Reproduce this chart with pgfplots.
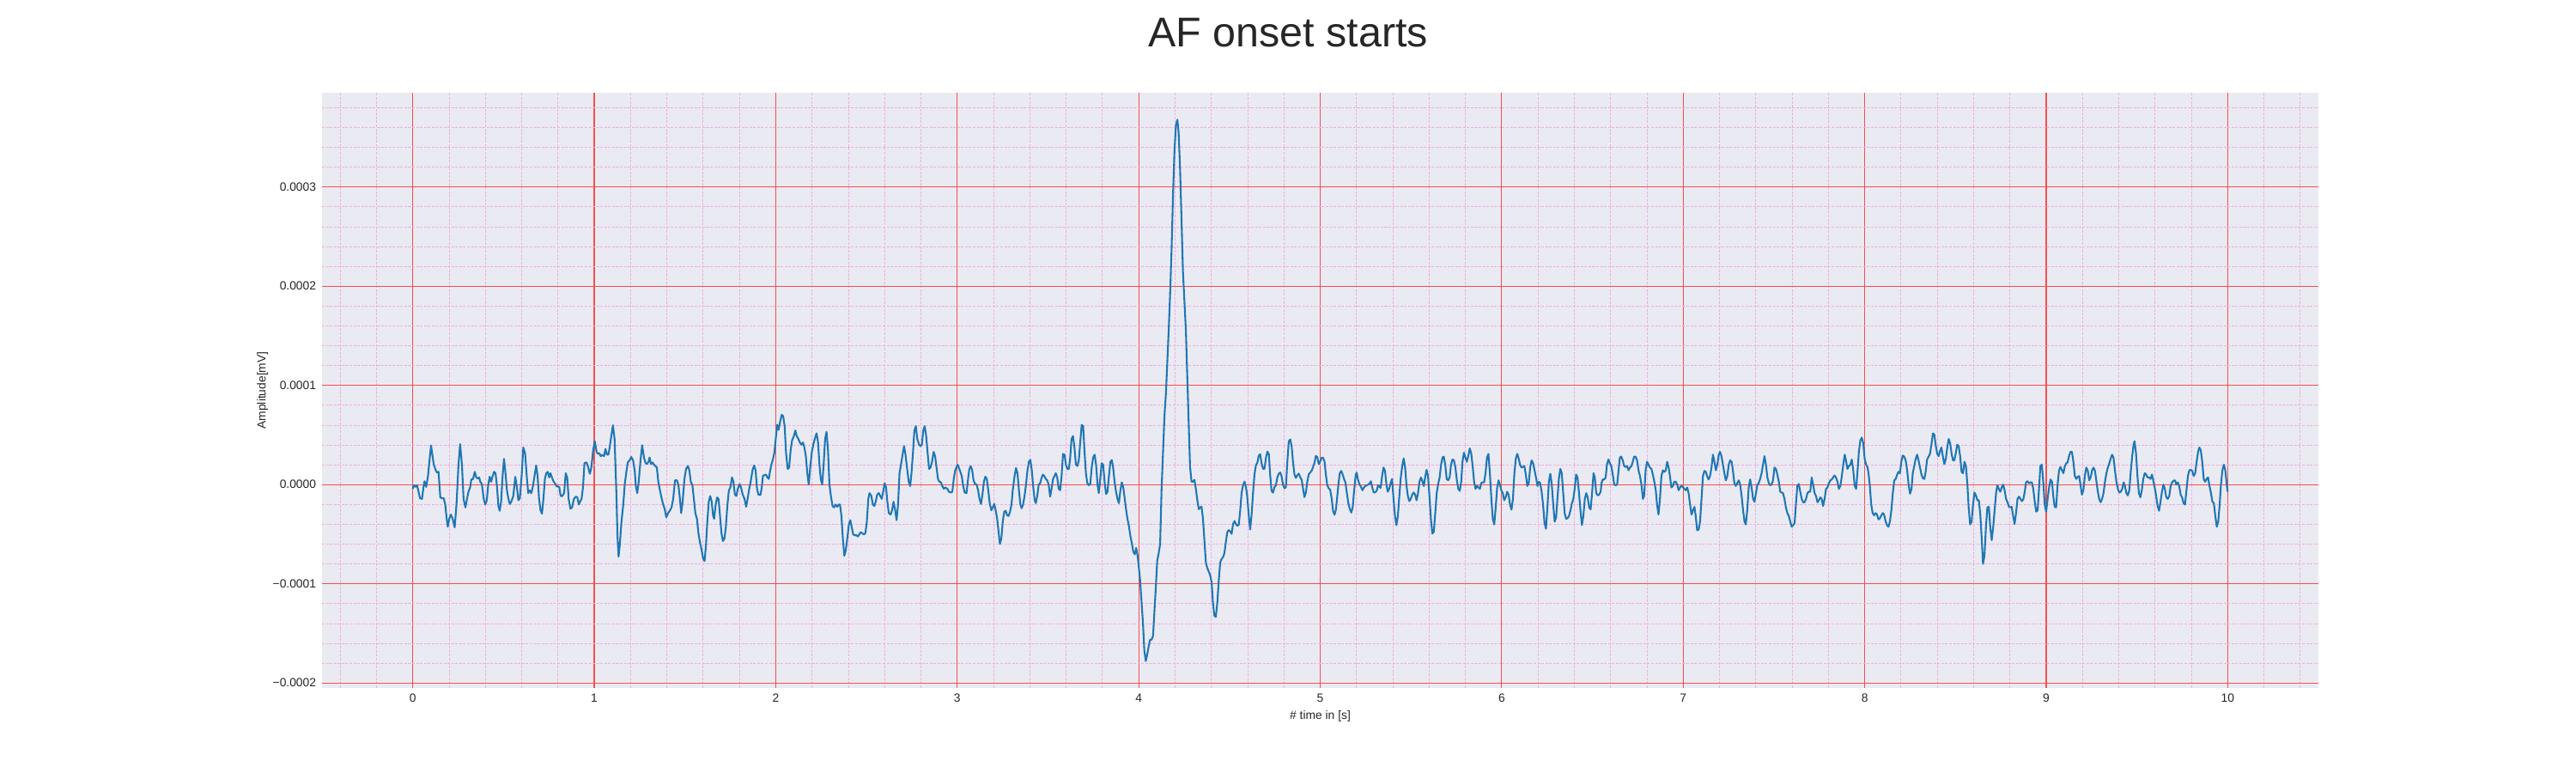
\documentclass[border=0pt]{standalone}
\usepackage{fontspec}
\setmainfont{Liberation Sans}
\usepackage{pgfplots}
\pgfplotsset{compat=1.18}
\definecolor{bgc}{HTML}{EAEAF2}
\definecolor{gridred}{RGB}{245,80,80}
\definecolor{gridpink}{RGB}{240,175,225}
\definecolor{txt}{HTML}{262626}
\definecolor{tabblue}{HTML}{1F77B4}
\begin{document}
\begin{tikzpicture}
\useasboundingbox (0,0) rectangle (30in,9in);
\node[anchor=base, font=\fontsize{35}{42}\selectfont, text=txt] at (15in,9in-39.6pt) {AF onset starts};
\begin{axis}[
  at={(3.75in,0.99in)}, anchor=south west,
  scale only axis, width=23.25in, height=6.93in,
  xmin=-0.5, xmax=10.5, ymin=-2.05e-4, ymax=3.95e-4,
  scaled y ticks=false, scaled x ticks=false,
  axis background/.style={fill=bgc},
  axis line style={draw=none},
  major tick length=0pt, minor tick length=0pt,
  xtick={0,1,2,3,4,5,6,7,8,9,10},
  xticklabels={0,1,2,3,4,5,6,7,8,9,10},
  minor xtick={-0.4,-0.2,0.2,0.4,0.6,0.8,1.2,1.4,1.6,1.8,2.2,2.4,2.6,2.8,3.2,3.4,3.6,3.8,4.2,4.4,4.6,4.8,5.2,5.4,5.6,5.8,6.2,6.4,6.6,6.8,7.2,7.4,7.6,7.8,8.2,8.4,8.6,8.8,9.2,9.4,9.6,9.8,10.2,10.4},
  ytick={-0.0002,-0.0001,0,0.0001,0.0002,0.0003},
  yticklabels={−0.0002,−0.0001,0.0000,0.0001,0.0002,0.0003},
  minor ytick={-0.00018,-0.00016,-0.00014,-0.00012,-0.00008,-0.00006,-0.00004,-0.00002,0.00002,0.00004,0.00006,0.00008,0.00012,0.00014,0.00016,0.00018,0.00022,0.00024,0.00026,0.00028,0.00032,0.00034,0.00036,0.00038},
  grid=both,
  major grid style={line width=0.8pt, color=gridred},
  minor grid style={line width=0.6pt, color=gridpink, dash pattern=on 2.2pt off 1.1pt},
  tick label style={font=\fontsize{10}{12}\selectfont, text=txt},
  xticklabel style={anchor=base, yshift=-11.95pt},
  yticklabel style={anchor=east, inner sep=0pt, xshift=-4.8pt},
  xlabel={\# time in [s]},
  ylabel={Amplitude[mV]},
  every axis x label/.style={at={([yshift=-26.35pt]axis description cs:0.5,0)}, anchor=base, font=\fontsize{10}{12}\selectfont, text=txt},
  every axis y label/.style={at={([xshift=-47.4pt]axis description cs:0,0.5)}, rotate=90, anchor=base, font=\fontsize{10}{12}\selectfont, text=txt},
]
\addplot[tabblue, line width=1.5pt, line join=round, mark=none] table {
x y
0.000 -0.43e-5
0.005 -0.06e-5
0.014 -0.23e-5
0.024 -0.09e-5
0.032 -0.72e-5
0.040 -1.38e-5
0.051 -1.44e-5
0.059 -0.29e-5
0.065 0.34e-5
0.074 -0.23e-5
0.084 0.86e-5
0.093 2.59e-5
0.101 3.94e-5
0.109 2.87e-5
0.116 2.01e-5
0.127 1.44e-5
0.134 1.21e-5
0.142 1.29e-5
0.152 -1.29e-5
0.161 -1.38e-5
0.171 -1.38e-5
0.179 -2.01e-5
0.187 -3.45e-5
0.193 -4.25e-5
0.201 -3.45e-5
0.210 -3.02e-5
0.220 -3.45e-5
0.231 -4.31e-5
0.241 -2.01e-5
0.252 2.01e-5
0.261 4.08e-5
0.271 2.01e-5
0.280 -1.44e-5
0.290 -2.30e-5
0.299 -1.44e-5
0.307 -0.72e-5
0.316 -0.29e-5
0.323 0.52e-5
0.332 0.57e-5
0.342 1.29e-5
0.350 0.72e-5
0.358 0.63e-5
0.366 0.72e-5
0.372 0.29e-5
0.381 0.06e-5
0.391 -1.44e-5
0.400 -2.01e-5
0.408 -1.58e-5
0.416 0
0.424 0.80e-5
0.432 0.29e-5
0.438 0.72e-5
0.448 1.29e-5
0.456 1.15e-5
0.464 -0.14e-5
0.472 -2.16e-5
0.479 -2.64e-5
0.487 -1.72e-5
0.495 0.86e-5
0.503 2.59e-5
0.511 1.15e-5
0.519 -0.57e-5
0.527 -1.44e-5
0.535 -1.95e-5
0.543 -1.72e-5
0.554 -1.15e-5
0.565 0.78e-5
0.574 -0.29e-5
0.582 -1.58e-5
0.590 -1.38e-5
0.600 0.86e-5
0.609 3.74e-5
0.619 3.16e-5
0.628 0.86e-5
0.636 -0.86e-5
0.644 -0.57e-5
0.653 -0.86e-5
0.661 -0.29e-5
0.671 0.86e-5
0.680 1.93e-5
0.688 0.86e-5
0.696 -1.44e-5
0.704 -2.59e-5
0.712 -2.93e-5
0.720 -1.44e-5
0.728 0.57e-5
0.736 1.15e-5
0.744 1.29e-5
0.752 0.72e-5
0.759 1.15e-5
0.767 0.72e-5
0.775 0.34e-5
0.783 0.14e-5
0.791 -0.14e-5
0.799 -0.20e-5
0.807 -0.23e-5
0.815 -1.15e-5
0.824 -1.15e-5
0.834 -0.86e-5
0.843 1.15e-5
0.851 0.72e-5
0.859 -1.44e-5
0.869 -2.44e-5
0.878 -2.30e-5
0.888 -1.44e-5
0.899 -1.21e-5
0.907 -1.29e-5
0.915 -2.01e-5
0.922 -1.72e-5
0.930 -1.44e-5
0.938 -0.29e-5
0.946 2.16e-5
0.957 2.24e-5
0.965 1.87e-5
0.976 1.09e-5
0.984 1.72e-5
0.994 3.45e-5
1.003 4.37e-5
1.013 3.30e-5
1.021 3.10e-5
1.028 3.16e-5
1.036 2.87e-5
1.046 2.99e-5
1.054 2.87e-5
1.062 3.59e-5
1.070 3.02e-5
1.078 3.02e-5
1.085 3.74e-5
1.095 5.03e-5
1.103 5.98e-5
1.112 4.60e-5
1.122 -0.86e-5
1.128 -5.17e-5
1.134 -7.27e-5
1.141 -6.03e-5
1.150 -3.74e-5
1.160 -2.01e-5
1.168 0
1.176 1.15e-5
1.185 2.24e-5
1.195 2.44e-5
1.204 2.79e-5
1.214 2.44e-5
1.223 1.44e-5
1.229 -0.14e-5
1.237 -0.86e-5
1.245 0.29e-5
1.255 2.44e-5
1.264 3.97e-5
1.274 2.73e-5
1.283 2.16e-5
1.290 2.07e-5
1.299 2.30e-5
1.305 2.73e-5
1.313 2.07e-5
1.321 2.24e-5
1.329 2.01e-5
1.337 1.87e-5
1.345 1.72e-5
1.353 0.29e-5
1.362 -0.57e-5
1.372 -1.44e-5
1.380 -2.01e-5
1.388 -2.44e-5
1.397 -3.30e-5
1.407 -2.87e-5
1.416 -2.64e-5
1.426 -2.30e-5
1.435 -1.44e-5
1.445 0.43e-5
1.456 0.43e-5
1.464 -0.06e-5
1.472 -1.44e-5
1.479 -2.87e-5
1.487 -1.72e-5
1.497 0.57e-5
1.506 1.58e-5
1.516 1.87e-5
1.524 1.44e-5
1.532 0.29e-5
1.541 -0.06e-5
1.549 -1.44e-5
1.557 -2.87e-5
1.566 -3.45e-5
1.574 -4.89e-5
1.582 -5.75e-5
1.592 -6.61e-5
1.600 -7.47e-5
1.608 -7.70e-5
1.616 -6.03e-5
1.623 -3.74e-5
1.631 -1.72e-5
1.639 -1.15e-5
1.647 -1.72e-5
1.655 -3.16e-5
1.661 -3.45e-5
1.669 -2.01e-5
1.677 -1.29e-5
1.685 -1.44e-5
1.693 -3.16e-5
1.701 -4.89e-5
1.709 -5.69e-5
1.717 -5.46e-5
1.725 -4.31e-5
1.734 -2.01e-5
1.742 -0.57e-5
1.750 -0.29e-5
1.759 0.72e-5
1.767 0.29e-5
1.775 -1.01e-5
1.783 -1.15e-5
1.791 -0.43e-5
1.801 0.06e-5
1.809 -0.29e-5
1.818 -1.01e-5
1.828 -1.44e-5
1.837 -2.24e-5
1.845 -1.44e-5
1.854 -0.43e-5
1.862 0.29e-5
1.872 1.44e-5
1.881 1.93e-5
1.889 1.44e-5
1.897 -0.43e-5
1.905 -1.01e-5
1.915 -1.06e-5
1.922 -0.43e-5
1.930 0.92e-5
1.938 0.95e-5
1.946 1.01e-5
1.954 0.72e-5
1.962 0.57e-5
1.968 1.29e-5
1.976 2.01e-5
1.984 2.50e-5
1.992 3.16e-5
2.000 4.60e-5
2.008 6.03e-5
2.016 5.52e-5
2.024 6.32e-5
2.033 7.04e-5
2.041 6.90e-5
2.049 5.89e-5
2.057 3.16e-5
2.066 1.58e-5
2.074 1.72e-5
2.082 3.45e-5
2.090 4.45e-5
2.100 4.89e-5
2.108 5.46e-5
2.116 4.89e-5
2.125 4.60e-5
2.133 4.25e-5
2.141 4.02e-5
2.150 4.25e-5
2.158 3.74e-5
2.166 2.87e-5
2.174 1.15e-5
2.182 0
2.190 1.72e-5
2.199 3.30e-5
2.207 4.02e-5
2.215 4.60e-5
2.225 5.17e-5
2.233 4.31e-5
2.241 2.01e-5
2.248 0.57e-5
2.256 0
2.264 2.01e-5
2.272 4.60e-5
2.280 5.32e-5
2.288 3.45e-5
2.296 0
2.304 -1.15e-5
2.313 -2.16e-5
2.321 -2.30e-5
2.329 -2.01e-5
2.339 -2.24e-5
2.347 -2.01e-5
2.354 -2.01e-5
2.362 -3.16e-5
2.370 -5.46e-5
2.378 -7.18e-5
2.386 -6.61e-5
2.396 -5.17e-5
2.403 -4.02e-5
2.411 -3.59e-5
2.419 -4.31e-5
2.427 -5.03e-5
2.437 -5.11e-5
2.445 -5.11e-5
2.453 -5.23e-5
2.460 -5.03e-5
2.468 -4.80e-5
2.476 -4.89e-5
2.486 -5.03e-5
2.494 -4.89e-5
2.502 -3.74e-5
2.510 -1.44e-5
2.517 -0.86e-5
2.527 -1.15e-5
2.535 -2.01e-5
2.543 -2.16e-5
2.551 -1.72e-5
2.559 -1.01e-5
2.568 -0.86e-5
2.576 -1.15e-5
2.584 -1.44e-5
2.592 -0.72e-5
2.600 0.14e-5
2.608 -0.29e-5
2.615 -1.72e-5
2.623 -2.87e-5
2.633 -3.02e-5
2.641 -2.59e-5
2.649 -1.72e-5
2.658 -2.59e-5
2.666 -3.59e-5
2.674 -2.01e-5
2.682 1.15e-5
2.690 2.01e-5
2.699 3.02e-5
2.707 3.88e-5
2.715 3.02e-5
2.725 1.44e-5
2.733 0.29e-5
2.741 -0.14e-5
2.748 1.15e-5
2.756 3.16e-5
2.764 5.46e-5
2.772 5.89e-5
2.780 4.60e-5
2.790 4.02e-5
2.797 3.88e-5
2.805 4.02e-5
2.813 5.46e-5
2.821 5.89e-5
2.829 4.89e-5
2.837 3.16e-5
2.845 1.58e-5
2.853 1.72e-5
2.861 2.30e-5
2.870 3.30e-5
2.878 2.87e-5
2.886 1.72e-5
2.894 0.57e-5
2.902 0.29e-5
2.910 0.23e-5
2.918 -0.14e-5
2.926 -0.43e-5
2.934 -0.29e-5
2.946 -0.43e-5
2.954 -0.72e-5
2.965 -0.80e-5
2.973 -0.72e-5
2.981 0.57e-5
2.989 1.44e-5
3.002 2.01e-5
3.009 1.72e-5
3.017 1.29e-5
3.025 0.86e-5
3.033 -0.14e-5
3.041 -0.80e-5
3.051 -0.86e-5
3.058 0.29e-5
3.066 1.49e-5
3.074 1.87e-5
3.082 1.49e-5
3.090 0.43e-5
3.098 0.06e-5
3.107 0
3.115 -0.57e-5
3.123 -1.44e-5
3.131 -1.95e-5
3.139 -1.01e-5
3.147 0.29e-5
3.155 0.80e-5
3.163 0.57e-5
3.171 -0.57e-5
3.179 -1.87e-5
3.188 -2.59e-5
3.196 -2.30e-5
3.204 -1.95e-5
3.212 -2.59e-5
3.220 -3.45e-5
3.227 -4.60e-5
3.235 -5.98e-5
3.243 -5.46e-5
3.251 -3.74e-5
3.259 -2.73e-5
3.267 -2.64e-5
3.275 -3.10e-5
3.283 -3.16e-5
3.291 -2.73e-5
3.299 -2.01e-5
3.306 -0.57e-5
3.316 0.86e-5
3.324 1.67e-5
3.332 1.15e-5
3.340 -0.57e-5
3.348 -2.01e-5
3.355 -2.39e-5
3.363 -2.01e-5
3.371 -1.15e-5
3.379 0
3.387 1.44e-5
3.395 2.30e-5
3.403 2.50e-5
3.411 1.44e-5
3.419 -0.29e-5
3.427 -1.58e-5
3.433 -1.87e-5
3.441 -1.15e-5
3.449 0
3.457 0.14e-5
3.464 0.63e-5
3.472 1.01e-5
3.480 0.86e-5
3.488 0.57e-5
3.496 0.43e-5
3.504 0
3.512 -1.21e-5
3.520 -0.43e-5
3.528 0.57e-5
3.536 0.86e-5
3.543 1.15e-5
3.551 0.72e-5
3.559 -0.43e-5
3.567 -0.57e-5
3.575 0.86e-5
3.583 3.10e-5
3.591 3.02e-5
3.599 2.01e-5
3.607 1.58e-5
3.615 1.58e-5
3.622 2.59e-5
3.630 4.60e-5
3.638 4.89e-5
3.646 3.74e-5
3.654 2.01e-5
3.662 1.87e-5
3.670 2.44e-5
3.678 4.31e-5
3.686 6.03e-5
3.694 5.89e-5
3.701 3.45e-5
3.709 1.15e-5
3.717 0.14e-5
3.725 -0.06e-5
3.733 0.06e-5
3.741 1.72e-5
3.749 2.73e-5
3.757 3.02e-5
3.765 2.01e-5
3.773 0
3.780 -0.86e-5
3.788 0.57e-5
3.796 2.16e-5
3.804 2.01e-5
3.812 0.29e-5
3.820 -0.95e-5
3.828 -0.72e-5
3.836 0.86e-5
3.844 2.30e-5
3.852 2.47e-5
3.859 1.72e-5
3.867 0.29e-5
3.875 -0.72e-5
3.883 -1.44e-5
3.891 -1.87e-5
3.899 -0.57e-5
3.907 0.23e-5
3.915 -0.29e-5
3.923 -1.44e-5
3.931 -2.59e-5
3.938 -3.45e-5
3.946 -4.17e-5
3.954 -5.17e-5
3.962 -5.89e-5
3.970 -6.75e-5
3.978 -7.04e-5
3.986 -6.38e-5
3.994 -7.18e-5
4.000 -8.22e-5
4.008 -9.70e-5
4.016 -11.93e-5
4.024 -14.15e-5
4.031 -16.74e-5
4.039 -17.78e-5
4.047 -17.11e-5
4.055 -16.30e-5
4.063 -15.63e-5
4.071 -15.63e-5
4.079 -15.26e-5
4.087 -12.67e-5
4.094 -10.44e-5
4.102 -7.67e-5
4.110 -6.93e-5
4.118 -6.00e-5
4.126 -0.44e-5
4.134 3.26e-5
4.142 6.96e-5
4.150 9.19e-5
4.157 12.15e-5
4.165 15.48e-5
4.173 19.19e-5
4.181 23.63e-5
4.189 29.19e-5
4.197 33.63e-5
4.205 36.22e-5
4.213 36.78e-5
4.220 35.48e-5
4.228 31.78e-5
4.236 26.59e-5
4.244 21.41e-5
4.252 18.44e-5
4.260 15.48e-5
4.268 10.67e-5
4.276 5.85e-5
4.283 1.78e-5
4.291 0.30e-5
4.299 0.30e-5
4.307 0.48e-5
4.315 -0.44e-5
4.323 -1.56e-5
4.331 -2.48e-5
4.339 -2.30e-5
4.346 -2.22e-5
4.354 -3.41e-5
4.362 -5.63e-5
4.370 -7.85e-5
4.378 -8.41e-5
4.386 -8.78e-5
4.394 -9.15e-5
4.402 -9.89e-5
4.409 -11.93e-5
4.417 -13.22e-5
4.425 -13.33e-5
4.433 -11.93e-5
4.441 -9.70e-5
4.449 -7.85e-5
4.457 -7.48e-5
4.465 -7.30e-5
4.472 -6.93e-5
4.480 -5.81e-5
4.488 -4.81e-5
4.496 -4.59e-5
4.504 -4.70e-5
4.512 -4.96e-5
4.520 -3.96e-5
4.528 -3.67e-5
4.535 -3.96e-5
4.543 -4.15e-5
4.551 -4.07e-5
4.559 -2.67e-5
4.567 -0.81e-5
4.575 -0.07e-5
4.583 0.30e-5
4.591 -0.26e-5
4.598 -1.19e-5
4.606 -3.04e-5
4.614 -4.52e-5
4.622 -3.04e-5
4.630 -0.81e-5
4.638 1.04e-5
4.646 1.96e-5
4.654 2.22e-5
4.661 2.89e-5
4.669 3.07e-5
4.677 2.15e-5
4.685 1.59e-5
4.693 1.59e-5
4.701 2.70e-5
4.709 3.33e-5
4.717 3.07e-5
4.724 1.04e-5
4.732 -0.63e-5
4.740 -0.81e-5
4.748 -0.26e-5
4.756 -0.07e-5
4.764 0.74e-5
4.772 1.11e-5
4.780 1.22e-5
4.787 0.85e-5
4.795 0
4.803 -0.37e-5
4.811 -0.26e-5
4.819 2.33e-5
4.827 4.37e-5
4.835 4.56e-5
4.843 3.81e-5
4.850 2.33e-5
4.858 1.04e-5
4.866 0.67e-5
4.874 0.96e-5
4.882 1.11e-5
4.890 0.74e-5
4.898 0.48e-5
4.906 -0.44e-5
4.913 -1.26e-5
4.921 -0.81e-5
4.929 0.30e-5
4.937 1.04e-5
4.945 1.22e-5
4.953 1.41e-5
4.961 1.78e-5
4.969 2.22e-5
4.976 2.89e-5
4.984 2.78e-5
4.992 2.07e-5
5.000 2.33e-5
5.008 2.70e-5
5.016 2.70e-5
5.024 2.33e-5
5.031 1.04e-5
5.039 -0.07e-5
5.047 -0.37e-5
5.055 -0.52e-5
5.063 -1.37e-5
5.071 -2.67e-5
5.079 -3.04e-5
5.087 -2.48e-5
5.094 -1.19e-5
5.102 0.30e-5
5.108 1.15e-5
5.116 1.38e-5
5.124 1.01e-5
5.132 0.52e-5
5.139 0.23e-5
5.147 -0.86e-5
5.155 -1.87e-5
5.163 -2.44e-5
5.171 -2.82e-5
5.179 -2.30e-5
5.187 -0.57e-5
5.196 1.01e-5
5.201 1.21e-5
5.209 0.43e-5
5.217 0
5.225 -0.23e-5
5.233 -0.57e-5
5.241 -0.29e-5
5.249 -0.14e-5
5.257 -0.06e-5
5.265 0
5.273 0.14e-5
5.279 0.34e-5
5.287 -0.29e-5
5.295 -0.80e-5
5.303 -0.78e-5
5.311 -0.63e-5
5.319 -0.06e-5
5.327 -0.23e-5
5.333 -0.34e-5
5.341 0.86e-5
5.349 1.72e-5
5.357 1.38e-5
5.365 0
5.372 -0.72e-5
5.380 -0.43e-5
5.388 0.14e-5
5.396 0.57e-5
5.404 -1.44e-5
5.412 -3.16e-5
5.420 -4.08e-5
5.428 -3.16e-5
5.436 -1.15e-5
5.444 0.72e-5
5.452 1.87e-5
5.460 2.64e-5
5.468 1.72e-5
5.475 0
5.483 -1.15e-5
5.491 -1.67e-5
5.499 -1.44e-5
5.507 -1.01e-5
5.515 -0.80e-5
5.523 -1.01e-5
5.531 -1.58e-5
5.539 -0.86e-5
5.547 0.29e-5
5.555 0.72e-5
5.563 0.34e-5
5.571 -0.14e-5
5.578 0.72e-5
5.586 1.49e-5
5.594 0.86e-5
5.602 -1.15e-5
5.610 -3.45e-5
5.618 -4.94e-5
5.626 -4.74e-5
5.634 -2.87e-5
5.642 -0.86e-5
5.650 0.06e-5
5.658 0.72e-5
5.666 2.01e-5
5.674 2.73e-5
5.681 2.82e-5
5.689 2.01e-5
5.697 0.57e-5
5.705 0.43e-5
5.713 0.72e-5
5.721 2.01e-5
5.729 2.53e-5
5.737 2.44e-5
5.745 1.72e-5
5.753 0.43e-5
5.761 -0.43e-5
5.769 -0.63e-5
5.777 0.29e-5
5.784 2.30e-5
5.792 3.22e-5
5.800 2.73e-5
5.808 2.30e-5
5.816 2.87e-5
5.824 3.65e-5
5.832 3.16e-5
5.840 1.87e-5
5.848 0.29e-5
5.856 -0.43e-5
5.864 -0.14e-5
5.872 -0.29e-5
5.880 -0.43e-5
5.887 0.14e-5
5.895 0.23e-5
5.903 0.23e-5
5.911 1.15e-5
5.919 2.73e-5
5.927 3.10e-5
5.935 1.15e-5
5.943 -1.44e-5
5.951 -3.45e-5
5.959 -4.02e-5
5.967 -2.30e-5
5.975 -0.29e-5
5.983 0.43e-5
5.990 0
5.998 -0.57e-5
6.006 -0.86e-5
6.014 -1.58e-5
6.022 -1.29e-5
6.030 -0.72e-5
6.038 -1.01e-5
6.046 -2.01e-5
6.054 -2.53e-5
6.062 -1.44e-5
6.070 1.15e-5
6.078 2.64e-5
6.086 3.10e-5
6.094 2.59e-5
6.101 2.01e-5
6.109 1.72e-5
6.117 1.78e-5
6.125 1.87e-5
6.133 1.01e-5
6.141 -0.14e-5
6.149 0.14e-5
6.157 1.72e-5
6.165 2.44e-5
6.173 2.16e-5
6.181 1.44e-5
6.189 0.72e-5
6.197 -0.14e-5
6.204 0.29e-5
6.212 0.14e-5
6.220 -0.72e-5
6.228 -2.01e-5
6.236 -3.88e-5
6.244 -4.45e-5
6.252 -2.30e-5
6.260 0.29e-5
6.268 1.09e-5
6.276 0
6.284 -2.01e-5
6.292 -3.74e-5
6.300 -3.30e-5
6.307 -1.44e-5
6.315 0.57e-5
6.323 1.58e-5
6.331 1.15e-5
6.339 -0.86e-5
6.347 -2.87e-5
6.355 -3.45e-5
6.363 -3.39e-5
6.371 -3.16e-5
6.379 -2.59e-5
6.387 -1.87e-5
6.395 -1.44e-5
6.403 -0.29e-5
6.410 1.01e-5
6.418 0.72e-5
6.426 -0.86e-5
6.434 -2.59e-5
6.442 -4.08e-5
6.450 -3.16e-5
6.458 -1.44e-5
6.466 -0.86e-5
6.474 -1.29e-5
6.482 -2.30e-5
6.490 -2.50e-5
6.498 -0.86e-5
6.506 1.15e-5
6.513 0.72e-5
6.521 -0.86e-5
6.529 -1.09e-5
6.537 -1.01e-5
6.545 -0.72e-5
6.550 0.14e-5
6.557 0.52e-5
6.565 0.52e-5
6.573 0.72e-5
6.580 2.01e-5
6.588 2.53e-5
6.596 2.16e-5
6.604 1.87e-5
6.612 1.01e-5
6.620 0
6.628 -0.06e-5
6.636 0
6.644 1.44e-5
6.651 2.73e-5
6.659 2.82e-5
6.667 2.44e-5
6.675 1.87e-5
6.683 1.78e-5
6.691 1.87e-5
6.699 1.44e-5
6.707 1.72e-5
6.715 1.87e-5
6.722 2.30e-5
6.730 2.82e-5
6.738 2.82e-5
6.746 2.44e-5
6.754 1.44e-5
6.762 0.86e-5
6.770 0
6.778 -1.44e-5
6.785 -1.15e-5
6.793 1.44e-5
6.801 2.30e-5
6.809 2.01e-5
6.817 1.72e-5
6.825 1.58e-5
6.833 1.01e-5
6.841 0.29e-5
6.849 -0.57e-5
6.856 -2.01e-5
6.864 -3.02e-5
6.872 -1.44e-5
6.880 0.86e-5
6.888 1.44e-5
6.896 1.29e-5
6.904 1.44e-5
6.912 2.30e-5
6.920 1.72e-5
6.927 0.86e-5
6.935 -0.29e-5
6.943 -0.14e-5
6.951 0.29e-5
6.959 0.29e-5
6.967 0
6.975 -0.57e-5
6.983 -0.29e-5
6.991 -0.14e-5
6.998 -0.23e-5
7.006 -0.43e-5
7.014 -0.57e-5
7.022 -0.29e-5
7.030 -0.86e-5
7.038 -2.01e-5
7.046 -3.02e-5
7.054 -2.59e-5
7.062 -2.24e-5
7.069 -3.16e-5
7.077 -4.60e-5
7.085 -4.54e-5
7.093 -3.74e-5
7.101 -1.44e-5
7.109 0.86e-5
7.117 1.38e-5
7.125 1.29e-5
7.132 0.86e-5
7.140 0.52e-5
7.148 0.86e-5
7.156 1.72e-5
7.164 3.02e-5
7.172 2.30e-5
7.180 1.44e-5
7.188 2.01e-5
7.196 3.02e-5
7.203 3.30e-5
7.211 2.87e-5
7.219 2.01e-5
7.227 1.15e-5
7.235 0.43e-5
7.243 0.86e-5
7.251 2.01e-5
7.259 2.44e-5
7.267 2.30e-5
7.274 1.44e-5
7.282 0.14e-5
7.290 -0.14e-5
7.298 0.14e-5
7.306 0.43e-5
7.314 0
7.322 -1.15e-5
7.330 -2.59e-5
7.338 -3.74e-5
7.345 -4.02e-5
7.353 -2.59e-5
7.361 -0.29e-5
7.369 0.52e-5
7.377 -0.29e-5
7.385 -1.44e-5
7.393 -1.72e-5
7.401 -0.86e-5
7.409 0
7.416 0.14e-5
7.424 0.57e-5
7.432 1.15e-5
7.440 2.01e-5
7.448 2.87e-5
7.456 2.01e-5
7.464 0.72e-5
7.472 0.14e-5
7.479 -0.06e-5
7.487 0
7.495 0.43e-5
7.503 1.72e-5
7.511 1.58e-5
7.519 1.01e-5
7.527 0.29e-5
7.535 -0.72e-5
7.543 -0.80e-5
7.550 -0.86e-5
7.558 -1.44e-5
7.566 -2.30e-5
7.574 -2.87e-5
7.582 -3.16e-5
7.590 -3.74e-5
7.598 -4.25e-5
7.606 -4.08e-5
7.614 -3.88e-5
7.621 -2.01e-5
7.629 -0.14e-5
7.637 0.06e-5
7.645 -0.72e-5
7.653 -1.44e-5
7.661 -1.78e-5
7.669 -1.78e-5
7.677 -1.44e-5
7.685 -0.86e-5
7.692 -0.72e-5
7.700 -0.72e-5
7.708 0.72e-5
7.716 0
7.724 -0.86e-5
7.732 -1.15e-5
7.740 -1.78e-5
7.748 -1.58e-5
7.756 -1.29e-5
7.763 -1.44e-5
7.771 -2.16e-5
7.779 -1.44e-5
7.787 -0.43e-5
7.795 -0.29e-5
7.803 0.14e-5
7.811 0.43e-5
7.819 0.52e-5
7.826 0.72e-5
7.834 0.92e-5
7.842 0.72e-5
7.850 0.29e-5
7.858 -0.43e-5
7.866 -0.14e-5
7.874 0.86e-5
7.882 2.01e-5
7.890 3.02e-5
7.897 2.44e-5
7.905 1.58e-5
7.913 1.87e-5
7.921 2.01e-5
7.929 2.53e-5
7.937 1.44e-5
7.945 -0.14e-5
7.953 -0.43e-5
7.961 1.44e-5
7.968 3.30e-5
7.976 4.45e-5
7.984 4.74e-5
7.992 4.17e-5
8.000 2.59e-5
8.008 2.01e-5
8.016 1.72e-5
8.021 1.15e-5
8.028 0
8.036 -2.01e-5
8.044 -2.87e-5
8.052 -3.10e-5
8.060 -2.87e-5
8.068 -3.02e-5
8.076 -3.51e-5
8.084 -3.39e-5
8.092 -3.10e-5
8.100 -2.87e-5
8.107 -3.02e-5
8.115 -3.68e-5
8.123 -4.08e-5
8.131 -4.25e-5
8.139 -3.74e-5
8.147 -2.59e-5
8.155 -0.86e-5
8.163 0.43e-5
8.171 0.57e-5
8.179 1.01e-5
8.186 1.29e-5
8.194 1.15e-5
8.202 2.30e-5
8.210 2.93e-5
8.218 2.82e-5
8.226 2.44e-5
8.234 1.44e-5
8.242 0
8.250 -0.92e-5
8.258 -0.43e-5
8.265 1.15e-5
8.273 1.87e-5
8.281 2.59e-5
8.289 3.02e-5
8.297 2.44e-5
8.305 1.72e-5
8.313 1.01e-5
8.321 0.63e-5
8.329 0.57e-5
8.336 1.29e-5
8.344 2.53e-5
8.352 2.82e-5
8.360 3.10e-5
8.368 4.08e-5
8.376 5.17e-5
8.384 5.03e-5
8.392 3.88e-5
8.400 3.10e-5
8.408 2.87e-5
8.415 3.39e-5
8.423 3.74e-5
8.431 2.82e-5
8.439 2.07e-5
8.447 2.59e-5
8.455 3.74e-5
8.463 4.60e-5
8.471 4.17e-5
8.479 3.10e-5
8.487 2.44e-5
8.494 2.44e-5
8.502 3.16e-5
8.510 4.02e-5
8.518 3.88e-5
8.526 2.87e-5
8.534 1.29e-5
8.542 1.15e-5
8.550 2.30e-5
8.558 1.87e-5
8.566 0
8.573 -2.30e-5
8.581 -4.02e-5
8.589 -3.74e-5
8.597 -2.01e-5
8.605 -0.80e-5
8.613 -1.09e-5
8.621 -1.58e-5
8.629 -1.58e-5
8.637 -3.02e-5
8.645 -5.46e-5
8.652 -7.99e-5
8.660 -7.18e-5
8.668 -4.31e-5
8.676 -2.30e-5
8.684 -2.24e-5
8.692 -4.31e-5
8.700 -5.60e-5
8.708 -4.31e-5
8.716 -2.59e-5
8.724 -0.86e-5
8.731 -0.06e-5
8.739 -0.43e-5
8.747 -0.72e-5
8.755 -0.29e-5
8.763 0
8.771 -0.57e-5
8.779 -1.44e-5
8.787 -1.78e-5
8.795 -2.24e-5
8.803 -2.30e-5
8.810 -2.24e-5
8.818 -3.16e-5
8.826 -3.97e-5
8.834 -2.87e-5
8.842 -1.44e-5
8.850 -1.21e-5
8.858 -1.44e-5
8.866 -1.67e-5
8.874 -1.49e-5
8.882 -0.72e-5
8.889 0.23e-5
8.897 0.34e-5
8.905 0.14e-5
8.913 0.23e-5
8.921 0.23e-5
8.929 -0.43e-5
8.937 -1.72e-5
8.945 -2.73e-5
8.953 -2.59e-5
8.961 -0.29e-5
8.968 1.87e-5
8.976 2.01e-5
8.984 0.29e-5
8.992 -2.01e-5
9.000 -2.73e-5
9.008 -1.44e-5
9.016 -0.29e-5
9.024 0.52e-5
9.032 0.29e-5
9.039 -1.15e-5
9.047 -2.24e-5
9.055 -2.30e-5
9.063 0
9.071 1.44e-5
9.079 1.78e-5
9.087 1.44e-5
9.095 1.15e-5
9.103 1.87e-5
9.111 2.16e-5
9.118 2.24e-5
9.126 2.87e-5
9.134 3.30e-5
9.142 3.30e-5
9.150 2.30e-5
9.158 0.86e-5
9.166 0.57e-5
9.174 0.80e-5
9.182 0.86e-5
9.190 -0.14e-5
9.197 -1.01e-5
9.205 -0.57e-5
9.213 0.86e-5
9.221 1.72e-5
9.229 1.44e-5
9.237 0.43e-5
9.245 0.72e-5
9.253 1.44e-5
9.261 1.72e-5
9.269 1.38e-5
9.276 0.43e-5
9.284 -0.63e-5
9.292 -1.44e-5
9.300 -1.78e-5
9.308 -1.44e-5
9.316 -0.86e-5
9.324 0.29e-5
9.332 1.15e-5
9.340 1.72e-5
9.348 2.16e-5
9.355 2.59e-5
9.363 3.02e-5
9.371 2.73e-5
9.379 1.44e-5
9.387 0.29e-5
9.395 -0.43e-5
9.403 -0.80e-5
9.411 -0.72e-5
9.419 -0.43e-5
9.427 0.23e-5
9.434 -0.14e-5
9.442 -0.86e-5
9.450 -1.09e-5
9.458 -0.57e-5
9.466 1.29e-5
9.474 2.87e-5
9.482 4.08e-5
9.487 4.37e-5
9.495 3.16e-5
9.503 0.86e-5
9.511 -0.86e-5
9.519 -1.29e-5
9.527 -0.57e-5
9.535 0.57e-5
9.543 1.15e-5
9.551 1.01e-5
9.559 0.72e-5
9.567 0.72e-5
9.575 0.57e-5
9.583 1.01e-5
9.590 0.43e-5
9.598 -0.29e-5
9.606 -1.15e-5
9.614 -2.16e-5
9.622 -2.64e-5
9.630 -1.72e-5
9.638 -0.72e-5
9.646 0
9.654 -0.43e-5
9.662 -1.29e-5
9.670 -1.44e-5
9.678 -1.15e-5
9.686 -0.14e-5
9.694 0.23e-5
9.702 0.40e-5
9.710 0.43e-5
9.717 0
9.725 0.23e-5
9.733 -0.14e-5
9.741 -1.01e-5
9.749 -1.29e-5
9.757 -1.87e-5
9.765 -2.01e-5
9.773 -0.57e-5
9.781 0.86e-5
9.789 1.44e-5
9.797 1.49e-5
9.805 1.38e-5
9.813 0.86e-5
9.821 1.15e-5
9.829 2.30e-5
9.837 3.30e-5
9.844 3.74e-5
9.852 3.45e-5
9.860 2.30e-5
9.868 0.57e-5
9.876 0.29e-5
9.884 0.57e-5
9.892 0.72e-5
9.900 -0.14e-5
9.908 -0.86e-5
9.916 -1.72e-5
9.924 -1.87e-5
9.932 -3.16e-5
9.940 -4.25e-5
9.948 -3.74e-5
9.956 -2.01e-5
9.963 0
9.971 1.44e-5
9.979 2.01e-5
9.987 1.44e-5
9.995 0
10.000 -0.72e-5
};
\end{axis}
\end{tikzpicture}
\end{document}
